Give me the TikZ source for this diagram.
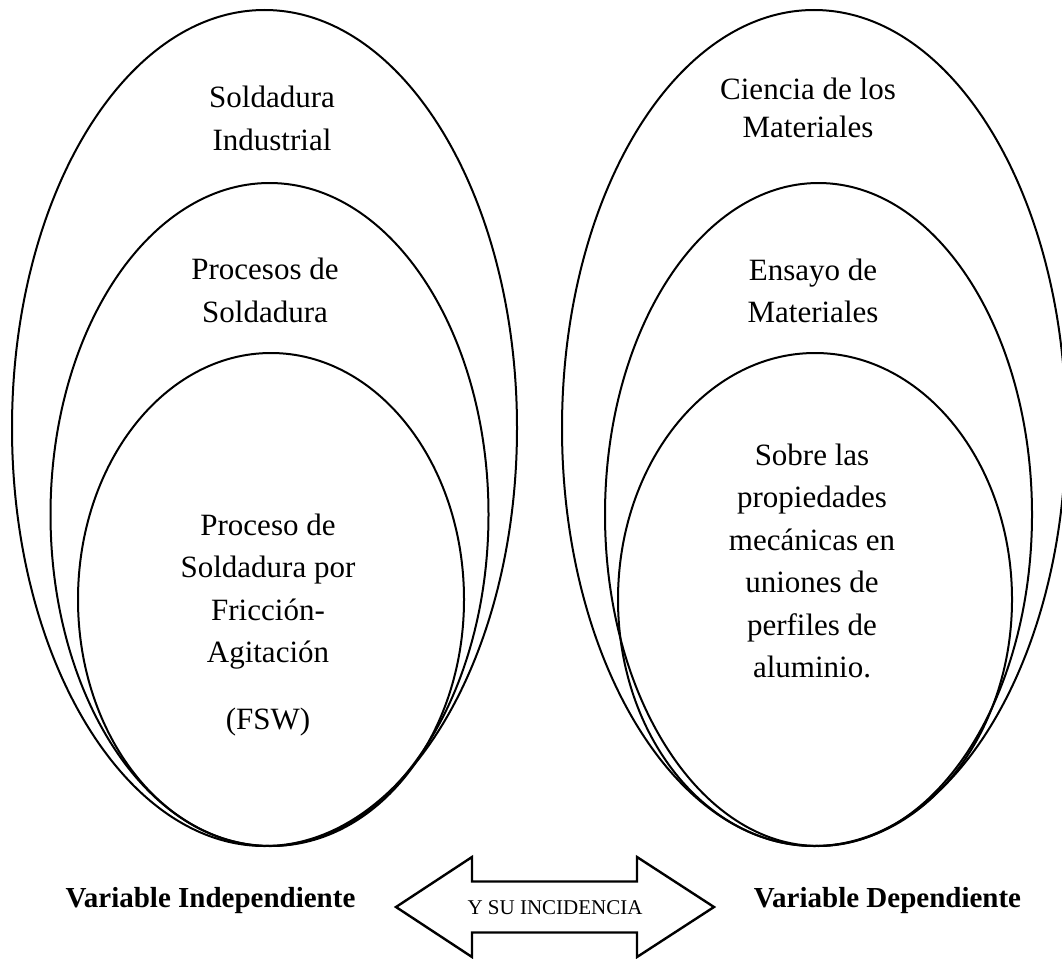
\documentclass[tikz,border=0pt]{standalone}
\usepackage{fontspec}
\setmainfont{Liberation Serif}
\usetikzlibrary{shapes.geometric}
% centred block of lines whose baseline is the first line's baseline
\newcommand{\txtblock}[1]{\begin{tabular}[t]{@{}c@{}}#1\end{tabular}}
\begin{document}
\begin{tikzpicture}[x=1pt,y=-1pt,
  ring/.style={draw, ellipse, line width=2pt, inner sep=0pt, outer sep=0pt},
  body/.style={anchor=base, inner sep=0pt, font=\fontsize{31}{42.5}\selectfont},
  varlabel/.style={anchor=base, inner sep=0pt, font=\bfseries\fontsize{29}{34}\selectfont},
  arrowline/.style={draw, line width=2.4pt, line join=miter}]
\useasboundingbox (0,0) rectangle (1062,958);
\clip (0,0) rectangle (1062,958);

% independent variable: nested ellipses
\node[ring, minimum width=505pt, minimum height=836pt] (lo) at (264.5,428) {};
\node[ring, minimum width=438pt, minimum height=663pt] (lm) at (269.5,514.5) {};
\node[ring, minimum width=386pt, minimum height=493pt] (li) at (271,599.5) {};

% dependent variable: nested ellipses
\node[ring, minimum width=504pt, minimum height=836pt] (ro) at (814,428) {};
\node[ring, minimum width=427pt, minimum height=663pt] (rm) at (818.5,514.5) {};
\node[ring, minimum width=394pt, minimum height=493pt] (ri) at (815,599.5) {};

% texts inside the ellipses
\node[body, font=\fontsize{31}{43}\selectfont] (t1) at (272,107) {\txtblock{Soldadura\\Industrial}};
\node[body, font=\fontsize{31}{43}\selectfont] (t2) at (265,279) {\txtblock{Procesos de\\Soldadura}};
\node[body] (t3) at (268,535) {\txtblock{Proceso de\\Soldadura por\\Fricción-\\Agitación\\[24.5pt](FSW)}};

\node[body, font=\fontsize{31}{38}\selectfont] (t4) at (808,99) {\txtblock{Ciencia de los\\Materiales}};
\node[body, font=\fontsize{31}{42}\selectfont] (t5) at (813,280) {\txtblock{Ensayo de\\Materiales}};
\node[body] (t6) at (812,465) {\txtblock{Sobre las\\propiedades\\mecánicas en\\uniones de\\perfiles de\\aluminio.}};

% bottom captions
\node[varlabel] (vi) at (210.5,907) {Variable Independiente};
\node[varlabel] (vd) at (887.5,907) {Variable Dependiente};

% double-headed block arrow
\node[anchor=base, inner sep=0pt, font=\fontsize{21}{25}\selectfont] (inc) at (555,914) {Y SU INCIDENCIA};
\coordinate (tipL) at (396,907);
\draw[arrowline] (tipL) -- ++(76,-50) -- ++(0,24.5) -- ++(165,0) -- ++(0,-24.5)
  -- ++(77,50) -- ++(-77,50) -- ++(0,-24.5) -- ++(-165,0) -- ++(0,24.5) -- cycle;
\end{tikzpicture}
\end{document}
